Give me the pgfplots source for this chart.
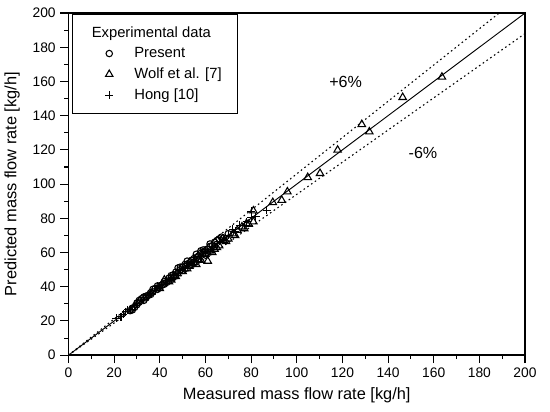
\documentclass[border=0pt]{standalone}
\usepackage{pgfplots}
\pgfplotsset{compat=1.18}
\usepackage{fontspec}
\setmainfont{Liberation Sans}
\begin{document}
\begin{tikzpicture}
\useasboundingbox (-51pt,-41.7pt) rectangle (358.6pt,264.5pt);
\begin{axis}[
  at={(0,0)}, anchor=south west,
  scale only axis,
  width=340pt, height=254.8pt,
  xmin=0, xmax=200, ymin=0, ymax=200,
  xtick={0,20,...,200}, ytick={0,20,...,200},
  minor x tick num=1, minor y tick num=1,
  axis line style={line width=1.1pt},
  tick align=outside,
  xtick pos=bottom, ytick pos=left,
  major tick length=6pt, minor tick length=3pt,
  tick style={black, line width=0.8pt},
  /pgf/number format/assume math mode=true,
  ticklabel style={font=\fontsize{10.3}{12}\selectfont},
  label style={font=\fontsize{12.2}{14}\selectfont},
  xlabel={Measured mass flow rate [kg/h]},
  ylabel={Predicted mass flow rate [kg/h]},
  xlabel style={at={(axis description cs:0.5,-0.117)}, anchor=center},
  ylabel style={at={(axis description cs:-0.1235,0.5)}, anchor=center},
  legend style={at={(axis description cs:0.008,0.998)}, anchor=north west, draw=black, line width=0.9pt,
    font=\fontsize{11}{13}\selectfont, row sep=2.2pt, inner xsep=8pt, inner ysep=7pt,
    nodes={inner xsep=3.7pt}},
  legend cell align=left,
  legend image code/.code={\path (0pt,0pt) (33.4pt,0pt);
    \draw[mark repeat=2,mark phase=2,#1] plot coordinates {(0pt,0pt) (18.8pt,0pt) (30pt,0pt)};},
]
\addlegendimage{empty legend}
\addlegendentry{\hspace{-31.7pt}Experimental data}
\addplot[only marks, mark=o, mark size=2.4pt, line width=0.8pt] coordinates {
(27,26) (28,27.5) (29,28) (30,30.5) (31,31) (32,33) (33,32) (34,34.5) (35,35)
(36,36.5) (37,37) (38,39) (39,38.5) (40,40.5) (41,41) (42,43) (43,42.5) (44,45)
(45,45) (46,47) (47,48.5) (48,48) (49,50) (50,51.5) (51,50.5) (52,53) (53,54)
(54,55.5) (55,54.5) (56,57) (57,58) (58,59.5) (59,60) (60,61) (61,62) (62,63.5)
(63,64) (64,66) (65,67) (52,55) (48,51) (44,43.5) (36,35.5) (30,29.5) (56,59)
(60,58.5) (66,68) (33,34) (39,40.5) (46,45.5) (54,53) (58,61)
(28,26.5) (31,32) (34,33.5) (37,38.5) (40,39.5) (42,41.5) (45,46.5) (47,47)
(49,51.5) (50,49.5) (51,53) (53,52.5) (55,56.5) (57,56) (59,61.5) (61,60)
(62,65) (64,63.5) (67,69) (68,68.5) (70,71)
};
\addlegendentry{Present}
\addplot[only marks, mark=triangle, mark size=3.2pt, line width=0.8pt] coordinates {
(40,39) (42,44) (44,43) (47,46) (50,49) (53,52) (55,54) (57,56) (58,55.5)
(60,59) (61,55) (62,61) (64,62) (66,64) (68,67) (70,68) (72,71) (74,73)
(76,75) (78,77) (81,78) (81,84.4) (89.5,89.3) (93.4,90.6) (95.9,95.5)
(104.8,103.9) (110.2,106.3) (117.9,119.9) (128.5,134.9) (131.8,130.6)
(146.4,150.7) (163.6,162.6)
(45,44) (52,50.5) (56,53) (63,60) (65,63) (69,66.5) (73,70) (77,74) (79,76.5)
};
\addlegendentry{Wolf et al. [7]}
\addplot[only marks, mark=+, mark size=3pt, line width=0.8pt] coordinates {
(21,21.5) (23,22.5) (25,25.5) (27,26.5) (30,30) (33,33.5) (36,36) (40,40.5)
(45,44.5) (50,50.5) (55,55) (60,60.5) (63,62) (66,66.5) (70,70) (73,72.5)
(75,76) (78,78) (80,80.5) (80,84) (82,81) (86.8,84.8)
(24,24) (26,26.5) (29,29) (38,38) (43,43.5) (48,47.5) (58,57.5) (68,67.5) (72,73.5) (77,76)
};
\addlegendentry{Hong [10]}
\addplot[black, line width=0.7pt, domain=0:200, samples=2, forget plot] {x};
\addplot[black, dash pattern=on 1.2pt off 2.2pt, line width=0.8pt, domain=0:200, samples=2, forget plot] {1.06*x};
\addplot[black, dash pattern=on 1.2pt off 2.2pt, line width=0.8pt, domain=0:200, samples=2, forget plot] {0.94*x};
\node[font=\fontsize{12}{14}\selectfont] at (axis cs:121.4,159.5) {+6\%};
\node[font=\fontsize{12}{14}\selectfont] at (axis cs:155.3,118.1) {-6\%};
\end{axis}
\end{tikzpicture}
\end{document}
